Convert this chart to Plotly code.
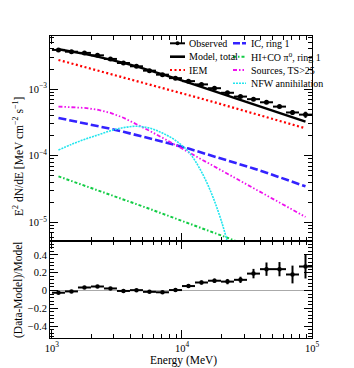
import plotly.graph_objects as go
from plotly.subplots import make_subplots
import numpy as np

# ==================== data ====================
# energy bins (MeV), 20 log bins from 1 GeV to 100 GeV
e_lo = [1000, 1259, 1585, 1995, 2512, 3162, 3981, 5012, 6310, 7943,
        10000, 12589, 15849, 19953, 25119, 31623, 39811, 50119, 63096, 79433]
e_hi = [1259, 1585, 1995, 2512, 3162, 3981, 5012, 6310, 7943, 10000,
        12589, 15849, 19953, 25119, 31623, 39811, 50119, 63096, 79433, 100000]
e_mid = [1122, 1413, 1778, 2239, 2818, 3548, 4467, 5623, 7079, 8913,
         11220, 14125, 17783, 22387, 28184, 35481, 44668, 56234, 70795, 89125]

observed = [3.864e-3, 3.636e-3, 3.488e-3, 3.207e-3, 2.831e-3, 2.460e-3, 2.197e-3, 1.890e-3, 1.645e-3, 1.459e-3,
            1.316e-3, 1.176e-3, 1.031e-3, 8.80e-4, 7.72e-4, 7.06e-4, 6.34e-4, 5.46e-4, 4.46e-4, 4.14e-4]
observed_err = [4.8e-5, 3.7e-5, 3.4e-5, 3.1e-5, 2.8e-5, 2.5e-5, 2.2e-5, 2.3e-5, 2.0e-5, 1.7e-5,
                1.9e-5, 2.4e-5, 2.2e-5, 2.4e-5, 2.4e-5, 3.1e-5, 3.8e-5, 3.5e-5, 3.8e-5, 4.4e-5]
model_total = [3.963e-3, 3.673e-3, 3.373e-3, 3.069e-3, 2.767e-3, 2.472e-3, 2.188e-3, 1.919e-3, 1.679e-3, 1.452e-3,
               1.253e-3, 1.079e-3, 9.29e-4, 8.00e-4, 6.89e-4, 5.93e-4, 5.11e-4, 4.40e-4, 3.78e-4, 3.26e-4]
iem = [2.735e-3, 2.427e-3, 2.153e-3, 1.910e-3, 1.694e-3, 1.503e-3, 1.334e-3, 1.180e-3, 1.045e-3, 9.25e-4,
       8.17e-4, 7.19e-4, 6.34e-4, 5.58e-4, 4.92e-4, 4.33e-4, 3.80e-4, 3.34e-4, 2.94e-4, 2.58e-4]
ic_ring1 = [3.69e-4, 3.38e-4, 3.08e-4, 2.81e-4, 2.54e-4, 2.29e-4, 2.05e-4, 1.84e-4, 1.63e-4, 1.45e-4,
            1.28e-4, 1.12e-4, 9.86e-5, 8.59e-5, 7.46e-5, 6.46e-5, 5.57e-5, 4.78e-5, 4.08e-5, 3.48e-5]
hico_ring1 = [4.91e-5, 4.20e-5, 3.58e-5, 3.05e-5, 2.60e-5, 2.21e-5, 1.88e-5, 1.60e-5, 1.36e-5, 1.15e-5,
              9.77e-6, 8.26e-6, 6.98e-6, 5.89e-6, 4.97e-6, 4.18e-6, 3.52e-6, 2.95e-6, 2.48e-6, 2.07e-6]
sources = [5.47e-4, 5.40e-4, 5.22e-4, 4.90e-4, 4.40e-4, 3.72e-4, 2.99e-4, 2.37e-4, 1.86e-4, 1.45e-4,
           1.12e-4, 8.77e-5, 6.84e-5, 5.35e-5, 4.17e-5, 3.26e-5, 2.54e-5, 1.99e-5, 1.55e-5, 1.21e-5]
nfw = [1.22e-4, 1.48e-4, 1.76e-4, 2.04e-4, 2.37e-4, 2.64e-4, 2.77e-4, 2.60e-4, 2.19e-4, 1.70e-4,
       1.15e-4, 5.75e-5, 2.09e-5, 5.0e-6, 5.0e-7, None, None, None, None, None]

residual = [-0.025, -0.01, 0.034, 0.045, 0.023, -0.005, 0.004, -0.015, -0.02, 0.005,
            0.05, 0.09, 0.11, 0.10, 0.12, 0.19, 0.24, 0.24, 0.18, 0.27]
residual_err = [0.012, 0.01, 0.01, 0.01, 0.01, 0.01, 0.01, 0.012, 0.012, 0.012,
                0.015, 0.022, 0.024, 0.03, 0.035, 0.053, 0.075, 0.08, 0.10, 0.135]

# ==================== style ====================
FONT = "Liberation Serif"
C_RED = "#ff0000"
C_BLUE = "#3322ff"
C_GREEN = "#11cc44"
C_MAGENTA = "#ee11ee"
C_CYAN = "#22e5ee"

xerr_plus = (np.array(e_hi) - np.array(e_mid)).tolist()
xerr_minus = (np.array(e_mid) - np.array(e_lo)).tolist()

fig = make_subplots(rows=2, cols=1, shared_xaxes=True, vertical_spacing=0,
                    row_heights=[0.679, 0.321])

def add_line(y, color, dash, width, shape="linear"):
    fig.add_trace(go.Scatter(x=e_mid, y=y, mode="lines", showlegend=False,
                             line=dict(color=color, dash=dash, width=width, shape=shape)),
                  row=1, col=1)

add_line(iem, C_RED, "2px,2.5px", 2.2)
add_line(ic_ring1, C_BLUE, "8px,3px", 2.6)
add_line(hico_ring1, C_GREEN, "3px,2px,1.5px,2px", 2)
add_line(sources, C_MAGENTA, "4px,2px,1.5px,2px,1.5px,2px", 1.8)
add_line(nfw, C_CYAN, "2px,1px", 1.6, shape="spline")
add_line(model_total, "black", "solid", 2.4)

fig.add_trace(go.Scatter(x=e_mid, y=observed, mode="markers", showlegend=False,
                         marker=dict(color="black", size=5),
                         error_x=dict(type="data", array=xerr_plus, arrayminus=xerr_minus,
                                      color="black", thickness=2, width=0),
                         error_y=dict(type="data", array=observed_err,
                                      color="black", thickness=2, width=0)),
              row=1, col=1)

fig.add_trace(go.Scatter(x=e_mid, y=residual, mode="markers", showlegend=False,
                         marker=dict(color="black", size=4.5),
                         error_x=dict(type="data", array=xerr_plus, arrayminus=xerr_minus,
                                      color="black", thickness=2, width=0),
                         error_y=dict(type="data", array=residual_err,
                                      color="black", thickness=2, width=0)),
              row=2, col=1)

# ==================== axes ====================
tickfont = dict(family=FONT, size=10.5, color="black")
log_minor_x = [m * 10 ** k for k in (3, 4) for m in range(2, 10)]
log_minor_y = [m * 10 ** k for k in (-6, -5, -4, -3) for m in range(2, 10)]

axis_common = dict(showline=True, linecolor="black", linewidth=1, mirror="allticks",
                   ticks="inside", tickcolor="black", showgrid=False, zeroline=False,
                   tickfont=tickfont, automargin=False)

for r in (1, 2):
    fig.update_xaxes(type="log", range=[2.985, 5.0], tickmode="array",
                     tickvals=[1e3, 1e4, 1e5],
                     ticktext=["10<sup>3</sup>", "10<sup>4</sup>", "10<sup>5</sup>"],
                     ticklen=8,
                     minor=dict(tickmode="array", tickvals=log_minor_x, ticks="inside",
                                ticklen=4, tickcolor="black", showgrid=False),
                     row=r, col=1, **axis_common)
fig.update_xaxes(showticklabels=False, row=1, col=1)

fig.update_yaxes(type="log", range=[-5.279, -2.204], tickmode="array",
                 tickvals=[1e-5, 1e-4, 1e-3],
                 ticktext=["10<sup>\u22125</sup>", "10<sup>\u22124</sup>", "10<sup>\u22123</sup>"],
                 ticklen=8,
                 minor=dict(tickmode="array", tickvals=log_minor_y, ticks="inside",
                            ticklen=4, tickcolor="black", showgrid=False),
                 row=1, col=1, **axis_common)

axis_res = dict(axis_common)
axis_res["zeroline"] = True
fig.update_yaxes(range=[-0.534, 0.556], tickmode="array",
                 tickvals=[-0.4, -0.2, 0, 0.2, 0.4],
                 ticktext=["\u22120.4", "\u22120.2", "0", "0.2", "0.4"],
                 ticklen=8, zerolinecolor="#aaaaaa", zerolinewidth=1,
                 minor=dict(dtick=0.04, ticks="inside", ticklen=4, tickcolor="black",
                            showgrid=False),
                 row=2, col=1, **axis_res)

# ==================== legend (drawn by hand, two columns) ====================
# page pixels -> paper coords (page has an 8px body margin; plot area is 50..312 x 36..338)
def px_x(px):
    return (px - 50) / 262

def px_y(py):
    return (338 - py) / 302

legend_rows = [43.3, 56.7, 70.0, 83.3]
col1 = [("Observed", "black", "solid", 2), ("Model, total", "black", "solid", 2.6),
        ("IEM", C_RED, "2px,2.5px", 2.2)]
col2 = [("IC, ring 1", C_BLUE, "7px,2px", 2.6),
        ("HI+CO \u03c0<sup>0</sup>, ring 1", C_GREEN, "3px,2px,1.5px,2px", 2),
        ("Sources, TS>25", C_MAGENTA, "4px,2px,1.5px,2px,1.5px,2px", 1.8),
        ("NFW annihilation", C_CYAN, "2px,1px", 1.6)]

shapes = []
annotations = []
for items, x0, x1, xt in ((col1, 170, 185, 187), (col2, 233, 246, 249)):
    for (label, color, dash, width), py in zip(items, legend_rows):
        shapes.append(dict(type="line", xref="paper", yref="paper",
                           x0=px_x(x0), x1=px_x(x1), y0=px_y(py), y1=px_y(py),
                           line=dict(color=color, dash=dash, width=width)))
        annotations.append(dict(text=label, xref="paper", yref="paper",
                                x=px_x(xt), y=px_y(py), xanchor="left", yanchor="middle",
                                showarrow=False, font=dict(family=FONT, size=10, color="black")))
# dot for the "Observed" sample
shapes.append(dict(type="circle", xref="paper", yref="paper", fillcolor="black",
                   line=dict(color="black", width=0),
                   x0=px_x(175.5), x1=px_x(179.5), y0=px_y(45.3), y1=px_y(41.3)))

# axis titles
title_font = dict(family=FONT, size=11.5, color="black")
annotations += [
    dict(text="E<sup>2</sup> dN/dE [MeV cm<sup>\u22122</sup> s<sup>\u22121</sup>]",
         xref="paper", yref="paper", x=px_x(18), y=px_y(157), textangle=-90,
         showarrow=False, font=title_font, xanchor="center", yanchor="middle"),
    dict(text="(Data-Model)/Model", xref="paper", yref="paper", x=px_x(18), y=px_y(290),
         textangle=-90, showarrow=False, font=title_font, xanchor="center", yanchor="middle"),
    dict(text="Energy (MeV)", xref="paper", yref="paper", x=px_x(183), y=px_y(360),
         showarrow=False, font=title_font, xanchor="center", yanchor="middle"),
]

# figure is 8px smaller than the window because the page body keeps an 8px margin
fig.update_layout(width=346, height=360, margin=dict(l=42, r=42, t=28, b=30),
                  plot_bgcolor="white", paper_bgcolor="white",
                  shapes=shapes, annotations=annotations,
                  font=dict(family=FONT, color="black"))

fig.write_html("out.html")
